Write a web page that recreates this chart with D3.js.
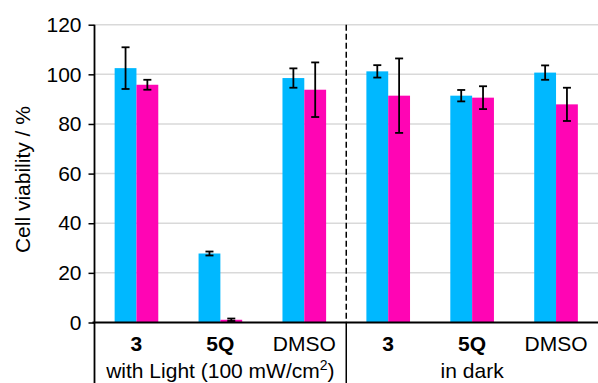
<!DOCTYPE html>
<html>
<head>
<meta charset="utf-8">
<script src="https://cdn.jsdelivr.net/npm/d3@7"></script>
<style>
  body { margin: 0; background: #fff; }
  text { font-family: Arial, "Liberation Sans", sans-serif; fill: #000; }
</style>
</head>
<body>
<svg id="chart" width="598" height="383"></svg>
<script>
// categories: compound x condition
const categories = ['3', '5Q', 'DMSO', '3 ', '5Q ', 'DMSO '];
const catLabels = ['3', '5Q', 'DMSO', '3', '5Q', 'DMSO'];
const catBold = [true, true, false, true, true, false];
const conditions = ['with Light (100 mW/cm²)', 'in dark'];
const seriesNames = ['blue', 'magenta'];
const blueValues = [102.5, 27.8, 98.5, 101.2, 91.4, 100.7];
const blueErrors = [8.4, 0.8, 3.9, 2.5, 2.3, 2.9];
const magentaValues = [95.8, 1.1, 93.8, 91.4, 90.6, 87.9];
const magentaErrors = [2.0, 0.5, 11.0, 15.0, 4.6, 6.7];
const yTicks = [0, 20, 40, 60, 80, 100, 120];

const colors = { blue: '#00b8ff', magenta: '#ff05b4' };
const fontSize = 21;

const svg = d3.select('#chart');
const plot = { left: 94.5, right: 598, top: 24.7, bottom: 322.5 };

const x0 = d3.scaleBand().domain(categories).range([plot.left, plot.right]).padding(0);
const x1 = d3.scaleBand().domain(seriesNames)
  .range([x0.bandwidth() * 0.24, x0.bandwidth() * 0.76]).padding(0);
const y = d3.scaleLinear().domain([0, 120]).range([plot.bottom, plot.top]);

// gridlines
svg.append('g')
  .selectAll('line')
  .data(yTicks.filter((d) => d > 0))
  .join('line')
  .attr('x1', plot.left).attr('x2', plot.right)
  .attr('y1', (d) => y(d)).attr('y2', (d) => y(d))
  .attr('stroke', '#d9d9d9')
  .attr('stroke-width', 1.5);

// rows of data
const rows = categories.map((c, i) => [
  { cat: c, s: 'blue', v: blueValues[i], e: blueErrors[i] },
  { cat: c, s: 'magenta', v: magentaValues[i], e: magentaErrors[i] }
]).flat();

svg.append('g')
  .selectAll('rect')
  .data(rows)
  .join('rect')
  .attr('x', (d) => x0(d.cat) + x1(d.s))
  .attr('width', x1.bandwidth())
  .attr('y', (d) => y(d.v))
  .attr('height', (d) => y(0) - y(d.v))
  .attr('fill', (d) => colors[d.s]);

// error bars
const eg = svg.append('g').attr('stroke', '#000').attr('stroke-width', 1.8);
rows.forEach((d) => {
  const cx = x0(d.cat) + x1(d.s) + x1.bandwidth() / 2;
  const y1 = y(d.v + d.e), y2 = y(d.v - d.e);
  eg.append('line').attr('x1', cx).attr('x2', cx).attr('y1', y1).attr('y2', y2);
  eg.append('line').attr('x1', cx - 4).attr('x2', cx + 4).attr('y1', y1).attr('y2', y1);
  eg.append('line').attr('x1', cx - 4).attr('x2', cx + 4).attr('y1', y2).attr('y2', y2);
});

// y axis
const yAxis = d3.axisLeft(y).tickValues(yTicks).tickSize(6).tickPadding(7);
const yg = svg.append('g').attr('transform', `translate(${plot.left},0)`).call(yAxis);
yg.select('.domain').remove();
yg.selectAll('.tick line').attr('stroke', '#000').attr('stroke-width', 1.5);
yg.selectAll('.tick text').attr('font-size', fontSize).attr('fill', '#000')
  .attr('font-family', 'Arial, "Liberation Sans", sans-serif');

// axis lines
svg.append('line').attr('x1', plot.left).attr('x2', plot.left).attr('y1', plot.top).attr('y2', 383)
  .attr('stroke', '#000').attr('stroke-width', 1.8);
svg.append('line').attr('x1', plot.left - 2).attr('x2', plot.right).attr('y1', plot.bottom).attr('y2', plot.bottom)
  .attr('stroke', '#000').attr('stroke-width', 1.8);

// divider between conditions
const divX = x0(categories[3]);
svg.append('line').attr('x1', divX).attr('x2', divX).attr('y1', plot.top).attr('y2', plot.bottom)
  .attr('stroke', '#000').attr('stroke-width', 1.5).attr('stroke-dasharray', '6,3');
svg.append('line').attr('x1', divX).attr('x2', divX).attr('y1', plot.bottom).attr('y2', 383)
  .attr('stroke', '#000').attr('stroke-width', 1.5);

// category labels
svg.append('g')
  .selectAll('text')
  .data(categories)
  .join('text')
  .attr('x', (d) => x0(d) + x0.bandwidth() / 2)
  .attr('y', 351)
  .attr('text-anchor', 'middle')
  .attr('font-size', fontSize)
  .attr('font-weight', (d, i) => (catBold[i] ? 'bold' : 'normal'))
  .text((d, i) => catLabels[i]);

// condition labels
const condCenters = [
  (x0(categories[0]) + x0(categories[2]) + x0.bandwidth()) / 2,
  (x0(categories[3]) + x0(categories[5]) + x0.bandwidth()) / 2
];
svg.append('g')
  .selectAll('text')
  .data(conditions)
  .join('text')
  .attr('x', (d, i) => condCenters[i])
  .attr('y', 378)
  .attr('text-anchor', 'middle')
  .attr('font-size', fontSize)
  .each(function (d) {
    const t = d3.select(this);
    if (d.includes('²')) {
      t.append('tspan').text('with Light (100 mW/cm');
      t.append('tspan').attr('font-size', 14).attr('dy', -8).text('2');
      t.append('tspan').attr('dy', 8).text(')');
    } else {
      t.text(d);
    }
  });

// y title
svg.append('text')
  .attr('transform', `translate(30,${(plot.top + plot.bottom) / 2 + 6}) rotate(-90)`)
  .attr('text-anchor', 'middle')
  .attr('font-size', fontSize)
  .text('Cell viability / %');
</script>
</body>
</html>
